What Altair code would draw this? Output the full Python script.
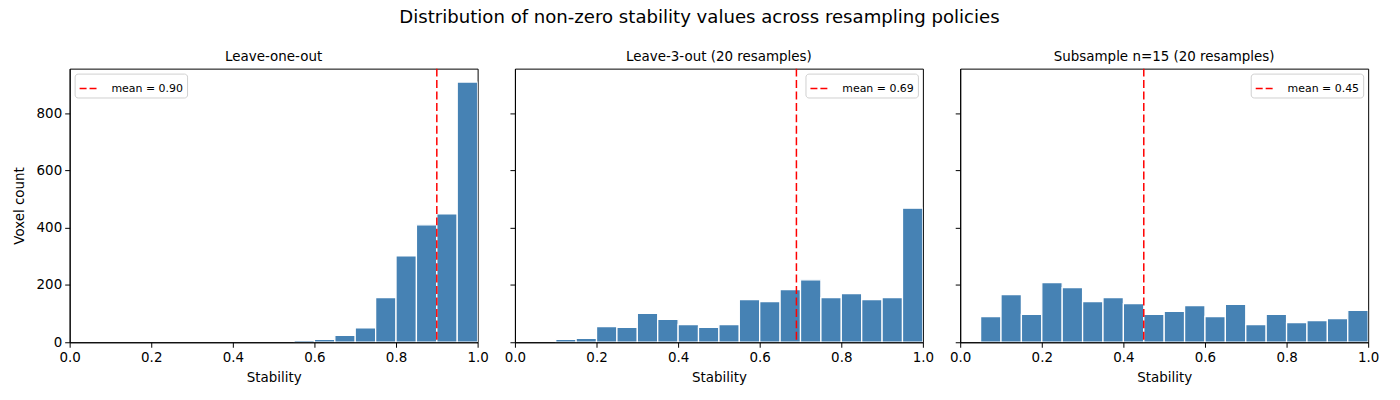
import altair as alt
import pandas as pd

# Histogram bins (left edges), width 0.05
bin_starts = [0.00, 0.05, 0.10, 0.15, 0.20, 0.25, 0.30, 0.35, 0.40, 0.45,
              0.50, 0.55, 0.60, 0.65, 0.70, 0.75, 0.80, 0.85, 0.90, 0.95]
bin_width = 0.05

# Voxel counts per bin for each resampling policy
loo_counts = [0, 0, 0, 0, 0, 0, 0, 0, 0, 0,
              0, 7, 10, 24, 50, 156, 302, 410, 448, 908]
l3o_counts = [0, 0, 10, 14, 55, 52, 101, 80, 62, 52,
              62, 149, 142, 184, 218, 156, 170, 149, 156, 468]
sub_counts = [0, 90, 166, 97, 208, 191, 142, 156, 135, 97,
              108, 128, 90, 132, 62, 97, 69, 76, 83, 111]

panel_titles = ["Leave-one-out", "Leave-3-out (20 resamples)", "Subsample n=15 (20 resamples)"]
panel_means = [0.90, 0.69, 0.45]
legend_corners = ["top-left", "top-right", "top-right"]

x_ticks = [0.0, 0.2, 0.4, 0.6, 0.8, 1.0]
y_ticks = [0, 200, 400, 600, 800]
y_max = 955

FONT = "DejaVu Sans"
BAR = "#4682B4"


def panel(counts, mean, title, corner, first):
    df = pd.DataFrame({"start": bin_starts, "count": counts})
    df = df[df["count"] > 0].copy()
    df["end"] = df["start"] + bin_width

    x_axis = alt.Axis(title="Stability", values=x_ticks, format=".1f",
                      labelFlush=False, labelOverlap=False, zindex=1,
                      titlePadding=7)
    if first:
        y_axis = alt.Axis(title="Voxel count", values=y_ticks,
                          labelFlush=False, labelOverlap=False, zindex=1,
                          titlePadding=10)
    else:
        y_axis = alt.Axis(title=None, values=y_ticks, labels=False, zindex=1)

    x_scale = alt.Scale(domain=[0, 1], nice=False, zero=False)
    y_scale = alt.Scale(domain=[0, y_max], nice=False)

    bars = alt.Chart(df).mark_rect(
        color=BAR, stroke="white", strokeWidth=1.3, clip=True
    ).encode(
        x=alt.X("start:Q", scale=x_scale, axis=x_axis),
        x2="end:Q",
        y=alt.Y("count:Q", scale=y_scale, axis=y_axis),
        y2=alt.datum(0),
    )

    label = f"mean = {mean:.2f}"
    mdf = pd.DataFrame({"mean": [mean], "label": [label]})
    rule = alt.Chart(mdf).mark_rule(
        strokeDash=[8, 3.5], strokeWidth=1.5
    ).encode(
        x=alt.X("mean:Q", scale=x_scale),
        color=alt.Color(
            "label:N",
            scale=alt.Scale(domain=[label], range=["red"]),
            legend=alt.Legend(
                title=None, orient=corner, offset=5,
                fillColor="white", strokeColor="#d0d0d0", cornerRadius=3,
                padding=4, labelFontSize=11, labelFont=FONT, labelColor="black",
                labelOffset=11, symbolType="stroke", symbolSize=400,
                symbolStrokeWidth=1.5, symbolDash=[7, 3],
            ),
        ),
    )

    return alt.layer(bars, rule).properties(
        width=410, height=275,
        title=alt.TitleParams(title, fontSize=13.5, font=FONT,
                              fontWeight="normal", color="black", offset=4),
    )


panels = [panel(c, m, t, o, i == 0)
          for i, (c, m, t, o) in enumerate(
              zip([loo_counts, l3o_counts, sub_counts],
                  panel_means, panel_titles, legend_corners))]

chart = alt.hconcat(*panels, spacing=37.5, bounds="flush").resolve_scale(
    color="independent"
).properties(
    title=alt.TitleParams(
        "Distribution of non-zero stability values across resampling policies",
        fontSize=18.2, font=FONT, fontWeight="normal", color="black",
        anchor="middle", offset=23, dx=4,
    ),
    padding={"left": 11, "top": 7, "right": 20, "bottom": 5},
).configure(
    font=FONT
).configure_view(
    stroke="black", strokeWidth=1
).configure_axis(
    domainColor="black", domainWidth=1, tickColor="black", tickSize=5,
    tickWidth=1, labelFontSize=13.5, labelFont=FONT, labelColor="black",
    labelPadding=3, titleFontSize=13.5, titleFont=FONT, titleColor="black",
    titleFontWeight="normal", grid=False,
)

chart.save("out.html", embed_options={"renderer": "svg", "actions": False})
